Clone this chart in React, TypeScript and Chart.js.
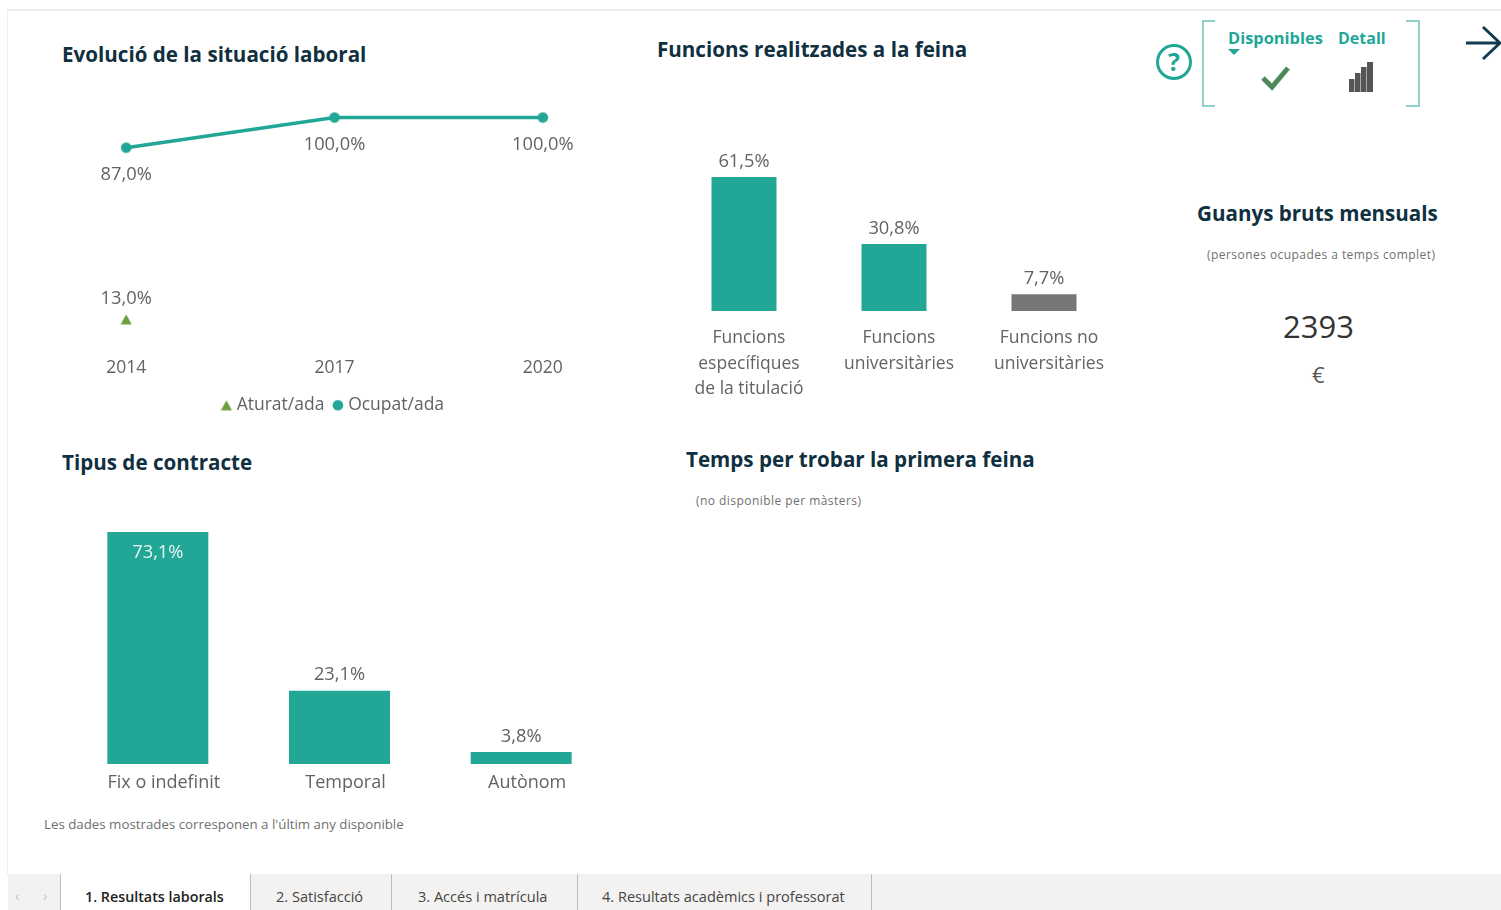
import React, { useEffect, useRef } from "react";
import { Chart, registerables } from "chart.js";

Chart.register(...registerables);

const FONT = '"Open Sans", "Noto Sans", sans-serif';
const GREY = "#636363";
const TEAL = "#22a796";
const GREEN = "#6b9f3c";
const SLATE = "#767676";
const CHART_FONT_SIZE = 17.5;
const VALUE_FONT_SIZE = 18.3;

const years = ["2014", "2017", "2020"];
const aturat = [13, null, null];
const ocupat = [87, 100, 100];

const funcionsCats = [
  ["Funcions", "específiques", "de la titulació"],
  ["Funcions", "universitàries"],
  ["Funcions no", "universitàries"],
];
const funcionsVals = [61.5, 30.8, 7.7];
const funcionsColors = [TEAL, TEAL, SLATE];

const contracteCats = ["Fix o indefinit", "Temporal", "Autònom"];
const contracteVals = [73.1, 23.1, 3.8];

const tabs = ["1. Resultats laborals", "2. Satisfacció", "3. Accés i matrícula", "4. Resultats acadèmics i professorat"];
const tabEdges = [60, 250, 391, 577, 871];
const tabTextInset = [25, 26, 27, 25];

const fmt = (v: number) => v.toFixed(1).replace(".", ",") + "%";

const trianglePoint = () => {
  const c = document.createElement("canvas");
  c.width = 12;
  c.height = 11;
  const g = c.getContext("2d")!;
  g.fillStyle = GREEN;
  g.beginPath();
  g.moveTo(6, 0.5);
  g.lineTo(11.5, 10.5);
  g.lineTo(0.5, 10.5);
  g.closePath();
  g.fill();
  return c;
};

const circlePoint = () => {
  const c = document.createElement("canvas");
  c.width = 12;
  c.height = 12;
  const g = c.getContext("2d")!;
  g.fillStyle = TEAL;
  g.beginPath();
  g.arc(6, 6, 5.3, 0, Math.PI * 2);
  g.fill();
  return c;
};

const labelPlugin = (offsetFor: (ds: number, i: number) => number, colorFor: (ds: number, i: number) => string, size: number) => ({
  id: "valueLabels",
  afterDatasetsDraw(chart: any) {
    const ctx = chart.ctx;
    ctx.save();
    ctx.font = `${size}px ${FONT}`;
    ctx.textAlign = "center";
    ctx.textBaseline = "middle";
    chart.data.datasets.forEach((ds: any, d: number) => {
      chart.getDatasetMeta(d).data.forEach((el: any, i: number) => {
        const v = ds.data[i];
        if (v == null) return;
        ctx.fillStyle = colorFor(d, i);
        ctx.fillText(fmt(v), el.x, el.y + offsetFor(d, i));
      });
    });
    ctx.restore();
  },
});

function useChart(build: () => any) {
  const ref = useRef<HTMLCanvasElement>(null);
  useEffect(() => {
    const c = new Chart(ref.current!, build());
    return () => c.destroy();
  }, []);
  return ref;
}

const hiddenY = (max: number) => ({ display: false, min: 0, max });

function LineChart() {
  const ref = useChart(() => ({
    type: "line",
    data: {
      labels: years,
      datasets: [
        { label: "Aturat/ada", data: aturat, pointStyle: trianglePoint(), pointRadius: 6, borderColor: GREEN, backgroundColor: GREEN, showLine: false, clip: false },
        { label: "Ocupat/ada", data: ocupat, pointStyle: circlePoint(), pointRadius: 5, borderColor: TEAL, backgroundColor: TEAL, borderWidth: 3.5, clip: false },
      ],
    },
    options: {
      responsive: false,
      animation: false,
      layout: { autoPadding: false, padding: { top: 17.5, left: 0, right: 0, bottom: 0 } },
      scales: {
        x: {
          offset: true,
          grid: { display: false, drawTicks: false },
          border: { display: false },
          ticks: { color: GREY, font: { family: FONT, size: CHART_FONT_SIZE }, padding: 8, maxRotation: 0 },
          afterFit: (s: any) => { s.height = 35; },
        },
        y: hiddenY(100),
      },
      plugins: {
        tooltip: { enabled: false },
        legend: {
          position: "bottom",
          labels: { usePointStyle: true, boxWidth: 8, boxHeight: 8, pointStyleWidth: 3, padding: 12, color: GREY, font: { family: FONT, size: CHART_FONT_SIZE } },
        },
      },
    },
    plugins: [labelPlugin((d) => (d === 0 ? -21 : 27.5), () => GREY, VALUE_FONT_SIZE)],
  }));
  return <canvas ref={ref} width={625} height={324} style={{ position: "absolute", left: 22, top: 100 }} />;
}

function FuncionsChart() {
  const ref = useChart(() => ({
    type: "bar",
    data: {
      labels: funcionsCats,
      datasets: [{ data: funcionsVals, backgroundColor: funcionsColors, barPercentage: 65 / 150, categoryPercentage: 1 }],
    },
    options: {
      responsive: false,
      animation: false,
      layout: { padding: { top: 37 } },
      scales: {
        x: {
          grid: { display: false, drawTicks: false },
          border: { display: false },
          ticks: { color: GREY, font: { family: FONT, size: CHART_FONT_SIZE, lineHeight: 1.43 }, labelOffset: 5, padding: 15, maxRotation: 0, autoSkip: false },
          afterFit: (s: any) => { s.height = 100; },
        },
        y: hiddenY(61.5),
      },
      plugins: { legend: { display: false }, tooltip: { enabled: false } },
    },
    plugins: [labelPlugin(() => -15.5, () => GREY, VALUE_FONT_SIZE)],
  }));
  return <canvas ref={ref} width={450} height={271} style={{ position: "absolute", left: 669, top: 140 }} />;
}

function ContracteChart() {
  const ref = useChart(() => ({
    type: "bar",
    data: {
      labels: contracteCats,
      datasets: [{ data: contracteVals, backgroundColor: TEAL, barPercentage: 101 / 181.7, categoryPercentage: 1 }],
    },
    options: {
      responsive: false,
      animation: false,
      layout: { padding: { top: 12 } },
      scales: {
        x: {
          grid: { display: false, drawTicks: false },
          border: { display: false },
          ticks: { color: GREY, font: { family: FONT, size: 18 }, labelOffset: 6, padding: 8.5, maxRotation: 0, autoSkip: false },
          afterFit: (s: any) => { s.height = 40; },
        },
        y: hiddenY(73.1),
      },
      plugins: { legend: { display: false }, tooltip: { enabled: false } },
    },
    plugins: [labelPlugin((_, i) => (i === 0 ? 20.5 : -15.5), (_, i) => (i === 0 ? "#e6f5f2" : GREY), VALUE_FONT_SIZE)],
  }));
  return <canvas ref={ref} width={545} height={284} style={{ position: "absolute", left: 67, top: 520 }} />;
}

const text = (left: number, top: number, s: string, style: React.CSSProperties = {}) => (
  <div key={s} style={{ position: "absolute", left, top, whiteSpace: "nowrap", fontFamily: FONT, transform: "translateY(-50%)", ...style }}>{s}</div>
);

const titleStyle: React.CSSProperties = { fontSize: 20.6, fontWeight: 700, color: "#10303f" };
const noteStyle: React.CSSProperties = { fontSize: 12, color: "#707070", letterSpacing: 0.45 };

export default function App() {
  return (
    <div style={{ position: "absolute", left: 0, top: 0, width: 1501, height: 910, overflow: "hidden", background: "#fff" }}>
      <div style={{ position: "absolute", left: 8, top: 9, right: 0, height: 2, background: "#eeeeee" }} />
      <div style={{ position: "absolute", left: 7, top: 9, width: 1, bottom: 36, background: "#eeeeee" }} />

      {text(62, 54, "Evolució de la situació laboral", titleStyle)}
      {text(657, 49, "Funcions realitzades a la feina", titleStyle)}
      {text(1197, 213, "Guanys bruts mensuals", titleStyle)}
      {text(62, 462, "Tipus de contracte", titleStyle)}
      {text(686, 459, "Temps per trobar la primera feina", titleStyle)}
      {text(1207, 254, "(persones ocupades a temps complet)", noteStyle)}
      {text(696, 500, "(no disponible per màsters)", noteStyle)}
      {text(44, 824, "Les dades mostrades corresponen a l'últim any disponible", { ...noteStyle, fontSize: 13.3, letterSpacing: 0 })}
      {text(1283, 326, "2393", { fontSize: 31, color: "#333", fontWeight: 500 })}
      {text(1312, 374, "€", { fontSize: 22, color: "#555" })}

      <LineChart />
      <FuncionsChart />
      <ContracteChart />

      <svg width={361} height={120} viewBox="1140 0 361 120" style={{ position: "absolute", left: 1140, top: 0 }}>
        <circle cx={1174} cy={62} r={16.5} fill="none" stroke={TEAL} strokeWidth={3} />
        <text x={1174} y={71} textAnchor="middle" fontFamily={FONT} fontWeight={700} fontSize={25} fill={TEAL}>?</text>
        <path d="M1215 21H1203V106H1215M1406 21H1419V106H1406" fill="none" stroke="#8fd3c8" strokeWidth={2} />
        <text x={1228} y={44} fontFamily={FONT} fontWeight={700} fontSize={16.4} fill={TEAL}>Disponibles</text>
        <text x={1338} y={44} fontFamily={FONT} fontWeight={700} fontSize={16} fill={TEAL}>Detall</text>
        <path d="M1228 49H1240L1234 55Z" fill={TEAL} />
        <path d="M1263 78L1272 87L1288 68" fill="none" stroke="#4c8a5a" strokeWidth={5} />
        <path d="M1349 79h5.5v13h-5.5zM1355 73h5.5v19h-5.5zM1361 67h5.5v25h-5.5zM1367 62h6v30h-6z" fill="#555" />
        <path d="M1466 43H1500M1483 27L1500 43L1483 59" fill="none" stroke="#123b50" strokeWidth={3} />
      </svg>

      <div style={{ position: "absolute", left: 8, top: 874, right: 0, height: 36, background: "#f3f2f1" }} />
      <div style={{ position: "absolute", left: tabEdges[0], top: 874, width: tabEdges[1] - tabEdges[0], height: 36, background: "#fff" }} />
      {tabEdges.map((x) => (
        <div key={x} style={{ position: "absolute", left: x, top: 874, width: 1, height: 36, background: "#bdbdbd" }} />
      ))}
      {tabs.map((t, i) =>
        text(tabEdges[i] + tabTextInset[i], 896, t, { fontSize: i === 0 ? 14.3 : 14.55, color: i === 0 ? "#222" : "#444", fontWeight: i === 0 ? 600 : 400 })
      )}
      {text(15, 895, "‹", { fontSize: 14, color: "#c4c4c4" })}
      {text(43, 895, "›", { fontSize: 14, color: "#c4c4c4" })}
    </div>
  );
}
